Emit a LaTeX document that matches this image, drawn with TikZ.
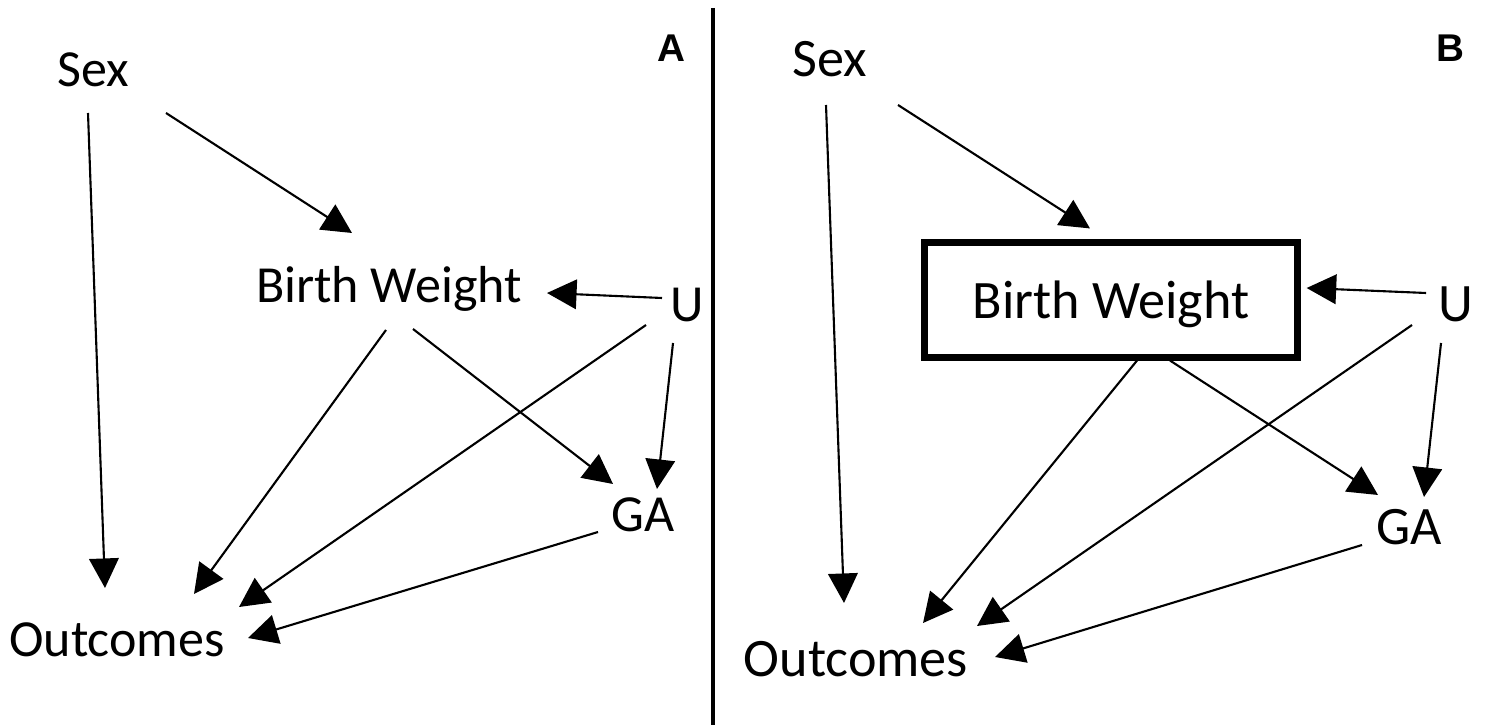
\documentclass[tikz,border=0pt]{standalone}
\usepackage{fontspec}
\setmainfont{Carlito}
\newfontfamily\panelfont{Liberation Sans}
\usetikzlibrary{arrows.meta}

\begin{document}
\begin{tikzpicture}[x=0.01cm, y=-0.01cm]
    \tikzstyle{arrow} = [-{Triangle[length=8.4pt, width=8.4pt]}, line width=0.6pt]
    \tikzstyle{lblA} = [inner sep=0pt, font=\fontsize{14.8}{17}\selectfont]
    \tikzstyle{lblB} = [inner sep=0pt, font=\fontsize{15.4}{18}\selectfont]
    \tikzstyle{panel} = [inner sep=0pt, font=\panelfont\bfseries\fontsize{11}{13}\selectfont]

    \useasboundingbox (0,0) rectangle (1489,725);
    \draw[line width=1.3pt] (713,8) -- (713,725);

    % panel A
    \node(labA) [panel] at (671,62) [anchor=base] {A};
    \node(sexA) [lblA] at (93,87) [anchor=base] {Sex};
    \node(bwA) [lblA] at (389,303) [anchor=base] {Birth Weight};
    \node(uA) [lblA] at (687,322) [anchor=base] {U};
    \node(gaA) [lblA] at (643,531) [anchor=base] {GA};
    \node(outA) [lblA] at (117,656) [anchor=base] {Outcomes};

    \draw[arrow] ([shift={(-5,26)}]sexA.base) -- ([shift={(-12,-68)}]outA.base);
    \draw[arrow] ([shift={(73,26)}]sexA.base) -- ([shift={(-37,-70)}]bwA.base);
    \draw[arrow] ([shift={(-25,-24)}]uA.base) -- ([shift={(158,-10)}]bwA.base);
    \draw[arrow] ([shift={(-41,3)}]uA.base) -- ([shift={(122,-49)}]outA.base);
    \draw[arrow] ([shift={(-14,21)}]uA.base) -- ([shift={(14,-42)}]gaA.base);
    \draw[arrow] ([shift={(-3,27)}]bwA.base) -- ([shift={(77,-62)}]outA.base);
    \draw[arrow] ([shift={(24,26)}]bwA.base) -- ([shift={(-30,-47)}]gaA.base);
    \draw[arrow] ([shift={(-45,1)}]gaA.base) -- ([shift={(131,-18)}]outA.base);

    % panel B
    \node(labB) [panel] at (1450,62) [anchor=base] {B};
    \node(sexB) [lblB] at (830,77) [anchor=base] {Sex};
    \node(bwB) [lblB, draw, line width=2pt, text depth=0pt,
        minimum width=3.72cm, minimum height=1.14cm]
        at (1111,300) {Birth Weight};
    \node(uB) [lblB] at (1456,322) [anchor=base] {U};
    \node(gaB) [lblB] at (1409,544) [anchor=base] {GA};
    \node(outB) [lblB] at (856,676) [anchor=base] {Outcomes};

    \draw[arrow] ([shift={(-4,28)}]sexB.base) -- ([shift={(-12,-73)}]outB.base);
    \draw[arrow] ([shift={(68,28)}]sexB.base) -- ([shift={(-21,-11)}]bwB.north);
    \draw[arrow] ([shift={(-30,-29)}]uB.base) -- ([shift={(6,-12)}]bwB.east);
    \draw[arrow] ([shift={(-44,3)}]uB.base) -- ([shift={(121,-50)}]outB.base);
    \draw[arrow] ([shift={(-15,21)}]uB.base) -- ([shift={(15,-47)}]gaB.base);
    \draw[arrow] ([shift={(26,0)}]bwB.south) -- ([shift={(67,-53)}]outB.base);
    \draw[arrow] ([shift={(59,0)}]bwB.south) -- ([shift={(-31,-49)}]gaB.base);
    \draw[arrow] ([shift={(-47,1)}]gaB.base) -- ([shift={(139,-19)}]outB.base);
\end{tikzpicture}
\end{document}
